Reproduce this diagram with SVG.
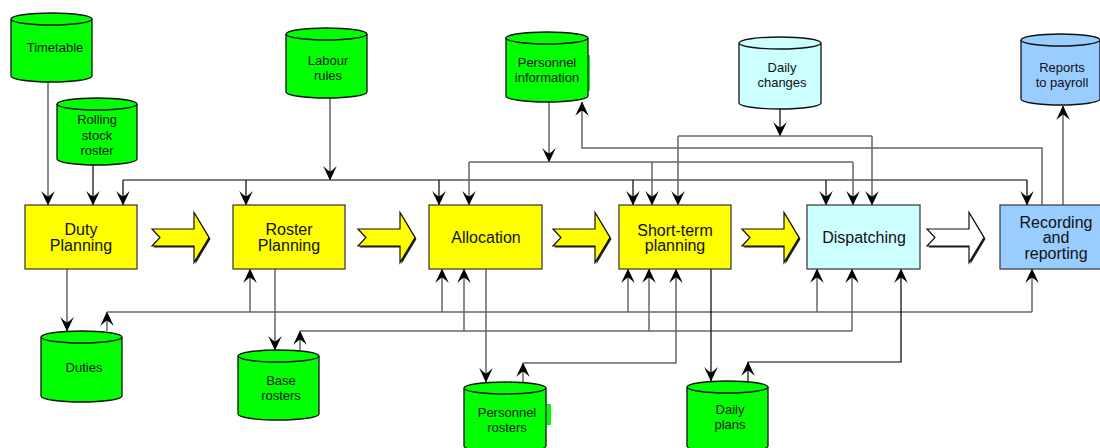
<svg xmlns="http://www.w3.org/2000/svg" width="1100" height="448" viewBox="0 0 1100 448">
<style>
.cyl{stroke:#111;stroke-width:1.3}
.green{fill:#00FF00}
.lc{fill:#CCFFFF}
.lb{fill:#99CCFF}
.inner{fill:none;stroke:#111;stroke-width:1.3}
.box{stroke:#404040;stroke-width:1.3}
.yel{fill:#FFFF00}
.t13{font-family:"Liberation Sans",Arial,sans-serif;font-size:13px;fill:#111;text-anchor:middle}
.t16{font-family:"Liberation Sans",Arial,sans-serif;font-size:16px;fill:#111;text-anchor:middle}
.g{fill:none;stroke:#666;stroke-width:1.5}
.k{fill:none;stroke:#000;stroke-width:1.2}
.fa{stroke:#111;stroke-width:1.2}
.sh{fill:#222}
</style>
<defs>
<marker id="ah" viewBox="-16 -8 17 16" markerWidth="17" markerHeight="16" refX="0" refY="0" orient="auto" markerUnits="userSpaceOnUse">
<path d="M0.5,0 L-14,-6.8 Q-9.5,-2.2 -8.5,0 Q-9.5,2.2 -14,6.8 Z" fill="#000"/>
</marker>
<polygon id="fat" points="0,-8.5 42,-8.5 42,-25 57,0 42,25 42,8.5 0,8.5 8,0"/>
</defs>

<g id="connectors">
<path class="g" d="M48,82 V205" marker-end="url(#ah)"/>
<path class="k" d="M93,165 V205" marker-end="url(#ah)"/>
<path class="k" d="M123,180 H1027"/>
<path class="k" d="M123,180 V205" marker-end="url(#ah)"/>
<path class="k" d="M246,180 V205" marker-end="url(#ah)"/>
<path class="k" d="M439,180 V205" marker-end="url(#ah)"/>
<path class="k" d="M633,180 V205" marker-end="url(#ah)"/>
<path class="k" d="M826,180 V205" marker-end="url(#ah)"/>
<path class="k" d="M1027,180 V205" marker-end="url(#ah)"/>
<path class="g" d="M330,98 V180" marker-end="url(#ah)"/>
<path class="g" d="M549,102 V162" marker-end="url(#ah)"/>
<path class="g" d="M469,162 H853"/>
<path class="g" d="M469,162 V205" marker-end="url(#ah)"/>
<path class="g" d="M652,162 V205" marker-end="url(#ah)"/>
<path class="g" d="M853,162 V205" marker-end="url(#ah)"/>
<path class="k" d="M780,109 V136" marker-end="url(#ah)"/>
<path class="g" d="M678,136 H872"/>
<path class="g" d="M678,136 V205" marker-end="url(#ah)"/>
<path class="g" d="M872,136 V205" marker-end="url(#ah)"/>
<path class="g" d="M1042,205 V148 H582 V102" marker-end="url(#ah)"/>
<path class="g" d="M1063,205 V106" marker-end="url(#ah)"/>
<path class="g" d="M67,269 V331" marker-end="url(#ah)"/>
<path class="g" d="M107,331 V312" marker-end="url(#ah)"/>
<path class="g" d="M107,312 H1032"/>
<path class="g" d="M250,312 V269" marker-end="url(#ah)"/>
<path class="g" d="M442,312 V269" marker-end="url(#ah)"/>
<path class="g" d="M628,312 V269" marker-end="url(#ah)"/>
<path class="g" d="M817,312 V269" marker-end="url(#ah)"/>
<path class="g" d="M1032,312 V269" marker-end="url(#ah)"/>
<path class="g" d="M275,269 V350" marker-end="url(#ah)"/>
<path class="g" d="M300,350 V331" marker-end="url(#ah)"/>
<path class="g" d="M300,331 H852"/>
<path class="g" d="M464,331 V269" marker-end="url(#ah)"/>
<path class="g" d="M649,331 V269" marker-end="url(#ah)"/>
<path class="g" d="M852,331 V269" marker-end="url(#ah)"/>
<path class="g" d="M486,269 V382" marker-end="url(#ah)"/>
<path class="g" d="M523,382 V363" marker-end="url(#ah)"/>
<path class="g" d="M523,363 H676 V269" marker-end="url(#ah)"/>
<path class="k" d="M711,269 V381" marker-end="url(#ah)"/>
<path class="k" d="M748,381 V362" marker-end="url(#ah)"/>
<path class="k" d="M748,362 H901 V269" marker-end="url(#ah)"/>
</g>

<g id="flow-arrows">
<g transform="translate(152,237.5)"><use href="#fat" class="sh" transform="translate(1.5,1.5)"/><use href="#fat" class="yel fa"/></g>
<g transform="translate(358,237.5)"><use href="#fat" class="sh" transform="translate(1.5,1.5)"/><use href="#fat" class="yel fa"/></g>
<g transform="translate(553,237.5)"><use href="#fat" class="sh" transform="translate(1.5,1.5)"/><use href="#fat" class="yel fa"/></g>
<g transform="translate(742,237.5)"><use href="#fat" class="sh" transform="translate(1.5,1.5)"/><use href="#fat" class="yel fa"/></g>
<g transform="translate(927,237.5)"><use href="#fat" class="sh" transform="translate(1.5,1.5)"/><use href="#fat" fill="#fff" class="fa"/></g>
</g>

<g id="duty-planning">
<rect class="box yel" x="25" y="205" width="112" height="64"/>
<text class="t16" x="81" y="235">Duty</text>
<text class="t16" x="81" y="251">Planning</text>
</g>
<g id="roster-planning">
<rect class="box yel" x="233" y="205" width="112" height="64"/>
<text class="t16" x="289" y="235">Roster</text>
<text class="t16" x="289" y="251">Planning</text>
</g>
<g id="allocation">
<rect class="box yel" x="429" y="205" width="113" height="64"/>
<text class="t16" x="486" y="243">Allocation</text>
</g>
<g id="short-term-planning">
<rect class="box yel" x="619" y="205" width="112" height="64"/>
<text class="t16" x="675" y="235.5">Short-term</text>
<text class="t16" x="675" y="251">planning</text>
</g>
<g id="dispatching">
<rect class="box lc" x="807" y="205" width="113" height="64"/>
<text class="t16" x="864" y="243">Dispatching</text>
</g>
<g id="recording-reporting">
<rect class="box lb" x="1000" y="205" width="112" height="64"/>
<text class="t16" x="1056" y="227.5">Recording</text>
<text class="t16" x="1056" y="243">and</text>
<text class="t16" x="1056" y="258.5">reporting</text>
</g>

<g id="timetable">
<path class="cyl green" d="M11,19 A40.5,6 0 0 1 92,19 V76 A40.5,6 0 0 1 11,76 Z"/>
<path class="inner" d="M11,19 A40.5,6 0 0 0 92,19"/>
<text class="t13" x="55" y="52">Timetable</text>
</g>
<g id="rolling-stock-roster">
<path class="cyl green" d="M57,104 A40,6 0 0 1 137,104 V159 A40,6 0 0 1 57,159 Z"/>
<path class="inner" d="M57,104 A40,6 0 0 0 137,104"/>
<text class="t13" x="97" y="124">Rolling</text>
<text class="t13" x="97" y="139.5">stock</text>
<text class="t13" x="97" y="155">roster</text>
</g>
<g id="labour-rules">
<path class="cyl green" d="M286,34 A40.5,6 0 0 1 367,34 V92 A40.5,6 0 0 1 286,92 Z"/>
<path class="inner" d="M286,34 A40.5,6 0 0 0 367,34"/>
<text class="t13" x="328" y="64.5">Labour</text>
<text class="t13" x="328" y="80">rules</text>
</g>
<g id="personnel-information">
<rect class="green" x="586" y="55" width="4" height="36"/>
<path class="cyl green" d="M506,38 A41,6 0 0 1 588,38 V96 A41,6 0 0 1 506,96 Z"/>
<path class="inner" d="M506,38 A41,6 0 0 0 588,38"/>
<text class="t13" x="547" y="67">Personnel</text>
<text class="t13" x="547" y="82">information</text>
</g>
<g id="daily-changes">
<path class="cyl lc" d="M739,43 A41,6 0 0 1 821,43 V103 A41,6 0 0 1 739,103 Z"/>
<path class="inner" d="M739,43 A41,6 0 0 0 821,43"/>
<text class="t13" x="782" y="71.5">Daily</text>
<text class="t13" x="782" y="87">changes</text>
</g>
<g id="reports-to-payroll">
<path class="cyl lb" d="M1021,40 A39.5,6 0 0 1 1100,40 V99 A39.5,6 0 0 1 1021,99 Z"/>
<path class="inner" d="M1021,40 A39.5,6 0 0 0 1100,40"/>
<text class="t13" x="1062" y="71.5">Reports</text>
<text class="t13" x="1062" y="87">to payroll</text>
</g>
<g id="duties">
<path class="cyl green" d="M41,337 A40.5,6 0 0 1 122,337 V396 A40.5,6 0 0 1 41,396 Z"/>
<path class="inner" d="M41,337 A40.5,6 0 0 0 122,337"/>
<text class="t13" x="84" y="371.5">Duties</text>
</g>
<g id="base-rosters">
<path class="cyl green" d="M238,356 A40.5,6 0 0 1 319,356 V414 A40.5,6 0 0 1 238,414 Z"/>
<path class="inner" d="M238,356 A40.5,6 0 0 0 319,356"/>
<text class="t13" x="281" y="385">Base</text>
<text class="t13" x="281" y="400">rosters</text>
</g>
<g id="personnel-rosters">
<rect class="green" x="544" y="404" width="7" height="21"/>
<path class="cyl green" d="M464,388 A41,6 0 0 1 546,388 V446 A41,6 0 0 1 464,446 Z"/>
<path class="inner" d="M464,388 A41,6 0 0 0 546,388"/>
<text class="t13" x="507" y="416.5">Personnel</text>
<text class="t13" x="507" y="431.5">rosters</text>
</g>
<g id="daily-plans">
<path class="cyl green" d="M687,387 A40.5,6 0 0 1 768,387 V446 A40.5,6 0 0 1 687,446 Z"/>
<path class="inner" d="M687,387 A40.5,6 0 0 0 768,387"/>
<text class="t13" x="730" y="413.5">Daily</text>
<text class="t13" x="730" y="429">plans</text>
</g>
</svg>
